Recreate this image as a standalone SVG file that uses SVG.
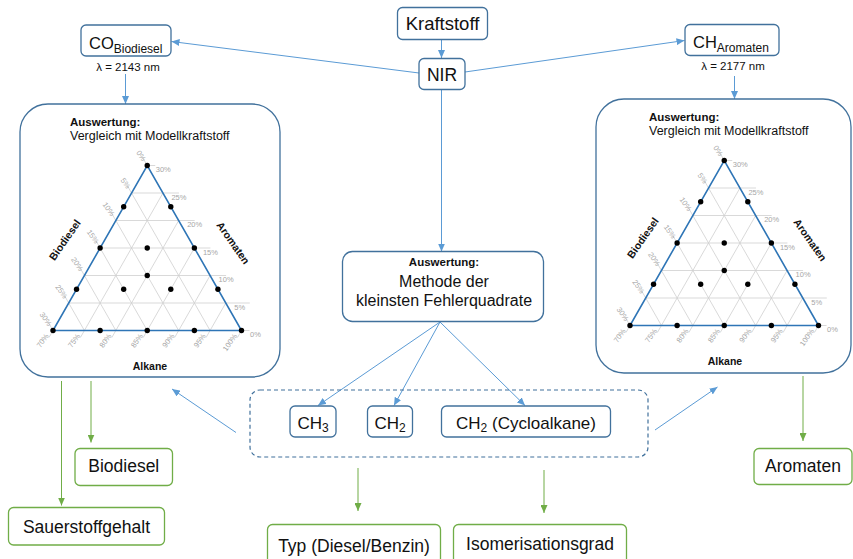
<svg xmlns="http://www.w3.org/2000/svg" xmlns:xlink="http://www.w3.org/1999/xlink" width="853" height="559" viewBox="0 0 853 559">
<style>
text{font-family:"Liberation Sans",Arial,sans-serif;fill:#111}
.node{fill:#fff;stroke:#41719c;stroke-width:1.3}
.gnode{fill:#fff;stroke:#70ad47;stroke-width:1.3}
.dash{fill:none;stroke:#41719c;stroke-width:1.2;stroke-dasharray:4 3}
.con{fill:none;stroke:#5b9bd5;stroke-width:1}
.gcon{fill:none;stroke:#70ad47;stroke-width:1}
.grid{stroke:#cfcfcf;stroke-width:0.8;fill:none}
.edge{stroke:#2e75b6;stroke-width:1.6;fill:none}
.tick{font-size:7.5px;fill:#a6a6a6}
.axis{font-size:10.5px;font-weight:bold}
.big{font-size:17.5px}
.hd{font-size:11.5px;font-weight:bold}
</style>
<defs>
<marker id="ab" markerWidth="8" markerHeight="7" refX="8" refY="3.5" orient="auto" markerUnits="userSpaceOnUse"><path d="M0,0 L8,3.5 L0,7 z" fill="#5b9bd5"/></marker>
<marker id="ag" markerWidth="8" markerHeight="7" refX="8" refY="3.5" orient="auto" markerUnits="userSpaceOnUse"><path d="M0,0 L8,3.5 L0,7 z" fill="#70ad47"/></marker>
<g id="tern">
<path class="grid" d="M15.71,-27.5H196.79M31.42,-55H173.08M47.12,-82.5H157.38M62.83,-110H141.67M78.54,-137.5H125.96M188.5,0H196.5M94.25,-165H102.25"/>
<path class="grid" d="M27.42,7L109.96,-137.5M58.83,7L125.67,-110M90.25,7L141.37,-82.5M121.67,7L157.08,-55M153.08,7L172.79,-27.5M0,0L-4,7M188.5,0L184.5,7"/>
<path class="grid" d="M11.71,-34.5L31.42,0M27.42,-62L62.83,0M43.12,-89.5L94.25,0M58.83,-117L125.67,0M74.54,-144.5L157.08,0M0,0L-4,-7M94.25,-165L90.25,-172"/>
<path class="edge" d="M0,0L188.5,0L94.25,-165Z"/>
<g fill="#000">
<circle cx="0" cy="0" r="2.7"/><circle cx="47.12" cy="0" r="2.7"/><circle cx="94.25" cy="0" r="2.7"/><circle cx="141.37" cy="0" r="2.7"/><circle cx="188.5" cy="0" r="2.7"/>
<circle cx="23.56" cy="-41.25" r="2.7"/><circle cx="70.69" cy="-41.25" r="2.7"/><circle cx="117.81" cy="-41.25" r="2.7"/><circle cx="164.94" cy="-41.25" r="2.7"/>
<circle cx="94.25" cy="-55" r="2.7"/>
<circle cx="47.12" cy="-82.5" r="2.7"/><circle cx="94.25" cy="-82.5" r="2.7"/><circle cx="141.37" cy="-82.5" r="2.7"/>
<circle cx="70.69" cy="-123.75" r="2.7"/><circle cx="117.81" cy="-123.75" r="2.7"/>
<circle cx="94.25" cy="-165" r="2.7"/>
</g>
</g>
</defs>

<g id="connectors">
<path class="con" marker-end="url(#ab)" d="M441.5,39.5L441.5,58"/>
<path class="con" marker-end="url(#ab)" d="M419,73L171.5,41.5"/>
<path class="con" marker-end="url(#ab)" d="M465,72L684.5,40.5"/>
<path class="con" marker-end="url(#ab)" d="M125.5,74L125.5,104"/>
<path class="con" marker-end="url(#ab)" d="M734.5,76L734.5,99"/>
<path class="con" marker-end="url(#ab)" d="M441.5,89.5L441.5,251.5"/>
<path class="con" marker-end="url(#ab)" d="M440,322L318,405.5"/>
<path class="con" marker-end="url(#ab)" d="M440,322L394,405.5"/>
<path class="con" marker-end="url(#ab)" d="M440,322L525,405.5"/>
<path class="con" marker-end="url(#ab)" d="M236,432.5L172,389"/>
<path class="con" marker-end="url(#ab)" d="M655,430L717.5,387"/>
<path class="gcon" marker-end="url(#ag)" d="M91,381L91,442.5"/>
<path class="gcon" marker-end="url(#ag)" d="M61.5,381L61.5,505.5"/>
<path class="gcon" marker-end="url(#ag)" d="M358,468L358,511"/>
<path class="gcon" marker-end="url(#ag)" d="M544,470L544,513"/>
<path class="gcon" marker-end="url(#ag)" d="M803,376L803,441"/>
</g>

<g id="kraftstoff"><rect class="node" x="397.5" y="7.5" width="90" height="32" rx="5"/><text x="442.5" y="29.5" font-size="18.5" text-anchor="middle">Kraftstoff</text></g>
<g id="nir"><rect class="node" x="419" y="58.5" width="46" height="31" rx="5"/><text x="442" y="81" font-size="17.5" text-anchor="middle">NIR</text></g>
<g id="co-biodiesel"><rect class="node" x="81" y="25" width="90" height="31" rx="5"/><text x="89" y="48.5" font-size="16.5">CO<tspan font-size="12" dy="4">Biodiesel</tspan></text>
<text x="128" y="71" font-size="11.5" text-anchor="middle">λ = 2143 nm</text></g>
<g id="ch-aromaten"><rect class="node" x="685" y="24.5" width="94" height="31" rx="5"/><text x="693" y="48" font-size="16.5">CH<tspan font-size="12" dy="4">Aromaten</tspan></text>
<text x="733" y="70" font-size="11.5" text-anchor="middle">λ = 2177 nm</text></g>

<g id="auswertung-links">
<rect class="node" x="20" y="104" width="260" height="273" rx="28"/>
<text class="hd" x="70" y="125.5">Auswertung:</text>
<text x="70" y="139.5" font-size="12.5">Vergleich mit Modellkraftstoff</text>
<use xlink:href="#tern" href="#tern" transform="translate(53,330.5)"/>
<g transform="translate(53,330.5)" class="tick">
<text class="tick" x="197" y="6.5">0%</text><text class="tick" x="181.29" y="-21">5%</text><text class="tick" x="165.58" y="-48.5">10%</text><text class="tick" x="149.88" y="-76">15%</text><text class="tick" x="134.17" y="-103.5">20%</text><text class="tick" x="118.46" y="-131">25%</text><text class="tick" x="102.75" y="-158.5">30%</text>
<text class="tick" text-anchor="end" dy="2.5" transform="translate(-3,-5.2) rotate(55)">30%</text>
<text class="tick" text-anchor="end" dy="2.5" transform="translate(12.71,-32.7) rotate(55)">25%</text>
<text class="tick" text-anchor="end" dy="2.5" transform="translate(28.42,-60.2) rotate(55)">20%</text>
<text class="tick" text-anchor="end" dy="2.5" transform="translate(44.12,-87.7) rotate(55)">15%</text>
<text class="tick" text-anchor="end" dy="2.5" transform="translate(59.83,-115.2) rotate(55)">10%</text>
<text class="tick" text-anchor="end" dy="2.5" transform="translate(75.54,-142.7) rotate(55)">5%</text>
<text class="tick" text-anchor="end" dy="2.5" transform="translate(91.25,-170.2) rotate(55)">0%</text>
<text class="tick" text-anchor="end" dy="2.5" transform="translate(-6,4) rotate(-55)">70%</text>
<text class="tick" text-anchor="end" dy="2.5" transform="translate(25.42,4) rotate(-55)">75%</text>
<text class="tick" text-anchor="end" dy="2.5" transform="translate(56.83,4) rotate(-55)">80%</text>
<text class="tick" text-anchor="end" dy="2.5" transform="translate(88.25,4) rotate(-55)">85%</text>
<text class="tick" text-anchor="end" dy="2.5" transform="translate(119.67,4) rotate(-55)">90%</text>
<text class="tick" text-anchor="end" dy="2.5" transform="translate(151.08,4) rotate(-55)">95%</text>
<text class="tick" text-anchor="end" dy="2.5" transform="translate(182.5,4) rotate(-55)">100%</text>
</g>
<text class="axis" text-anchor="middle" dy="3.5" transform="translate(65,240) rotate(-55)">Biodiesel</text>
<text class="axis" text-anchor="middle" dy="3.5" transform="translate(233,243) rotate(55)">Aromaten</text>
<text class="axis" x="150" y="370" text-anchor="middle">Alkane</text>
</g>

<g id="auswertung-rechts">
<rect class="node" x="596" y="99" width="255" height="274" rx="28"/>
<text class="hd" x="649" y="120.5">Auswertung:</text>
<text x="649" y="134.5" font-size="12.5">Vergleich mit Modellkraftstoff</text>
<use xlink:href="#tern" href="#tern" transform="translate(630,325.5)"/>
<g transform="translate(630,325.5)" class="tick">
<text class="tick" x="197" y="6.5">0%</text><text class="tick" x="181.29" y="-21">5%</text><text class="tick" x="165.58" y="-48.5">10%</text><text class="tick" x="149.88" y="-76">15%</text><text class="tick" x="134.17" y="-103.5">20%</text><text class="tick" x="118.46" y="-131">25%</text><text class="tick" x="102.75" y="-158.5">30%</text>
<text class="tick" text-anchor="end" dy="2.5" transform="translate(-3,-5.2) rotate(55)">30%</text>
<text class="tick" text-anchor="end" dy="2.5" transform="translate(12.71,-32.7) rotate(55)">25%</text>
<text class="tick" text-anchor="end" dy="2.5" transform="translate(28.42,-60.2) rotate(55)">20%</text>
<text class="tick" text-anchor="end" dy="2.5" transform="translate(44.12,-87.7) rotate(55)">15%</text>
<text class="tick" text-anchor="end" dy="2.5" transform="translate(59.83,-115.2) rotate(55)">10%</text>
<text class="tick" text-anchor="end" dy="2.5" transform="translate(75.54,-142.7) rotate(55)">5%</text>
<text class="tick" text-anchor="end" dy="2.5" transform="translate(91.25,-170.2) rotate(55)">0%</text>
<text class="tick" text-anchor="end" dy="2.5" transform="translate(-6,4) rotate(-55)">70%</text>
<text class="tick" text-anchor="end" dy="2.5" transform="translate(25.42,4) rotate(-55)">75%</text>
<text class="tick" text-anchor="end" dy="2.5" transform="translate(56.83,4) rotate(-55)">80%</text>
<text class="tick" text-anchor="end" dy="2.5" transform="translate(88.25,4) rotate(-55)">85%</text>
<text class="tick" text-anchor="end" dy="2.5" transform="translate(119.67,4) rotate(-55)">90%</text>
<text class="tick" text-anchor="end" dy="2.5" transform="translate(151.08,4) rotate(-55)">95%</text>
<text class="tick" text-anchor="end" dy="2.5" transform="translate(182.5,4) rotate(-55)">100%</text>
</g>
<text class="axis" text-anchor="middle" dy="3.5" transform="translate(643,238) rotate(-55)">Biodiesel</text>
<text class="axis" text-anchor="middle" dy="3.5" transform="translate(810,240) rotate(55)">Aromaten</text>
<text class="axis" x="725" y="365" text-anchor="middle">Alkane</text>
</g>

<g id="auswertung-mitte"><rect class="node" x="342.5" y="251.5" width="201" height="70" rx="10"/>
<text class="hd" x="444" y="266" text-anchor="middle">Auswertung:</text>
<text x="444" y="287" font-size="16" text-anchor="middle">Methode der</text>
<text x="444" y="305.5" font-size="16" text-anchor="middle">kleinsten Fehlerquadrate</text></g>

<g id="gruppe"><rect class="dash" x="250" y="390" width="398" height="67" rx="10"/></g>
<g id="ch3"><rect class="node" x="290" y="406" width="46" height="31" rx="5"/><text x="313" y="428.5" font-size="17" text-anchor="middle">CH<tspan font-size="12" dy="3">3</tspan></text></g>
<g id="ch2"><rect class="node" x="367.5" y="406" width="45" height="31" rx="5"/><text x="390" y="428.5" font-size="17" text-anchor="middle">CH<tspan font-size="12" dy="3">2</tspan></text></g>
<g id="ch2-cyclo"><rect class="node" x="441.5" y="406" width="169" height="31" rx="5"/><text x="526" y="428.5" font-size="17" text-anchor="middle">CH<tspan font-size="12" dy="3">2</tspan><tspan dy="-3"> (Cycloalkane)</tspan></text></g>

<g id="biodiesel"><rect class="gnode" x="75" y="448.5" width="97.5" height="37" rx="5"/><text class="big" x="123.75" y="472" text-anchor="middle">Biodiesel</text></g>
<g id="sauerstoffgehalt"><rect class="gnode" x="8.5" y="507.5" width="156" height="37.5" rx="5"/><text class="big" x="86.5" y="532.5" text-anchor="middle">Sauerstoffgehalt</text></g>
<g id="typ"><rect class="gnode" x="267.5" y="524.5" width="173" height="40" rx="5"/><text class="big" x="354" y="552" text-anchor="middle">Typ (Diesel/Benzin)</text></g>
<g id="isomerisationsgrad"><rect class="gnode" x="453.5" y="524.5" width="173" height="40" rx="5"/><text class="big" x="540" y="550" text-anchor="middle">Isomerisationsgrad</text></g>
<g id="aromaten"><rect class="gnode" x="754" y="448.5" width="98" height="36" rx="5"/><text class="big" x="803" y="472" text-anchor="middle">Aromaten</text></g>
</svg>
